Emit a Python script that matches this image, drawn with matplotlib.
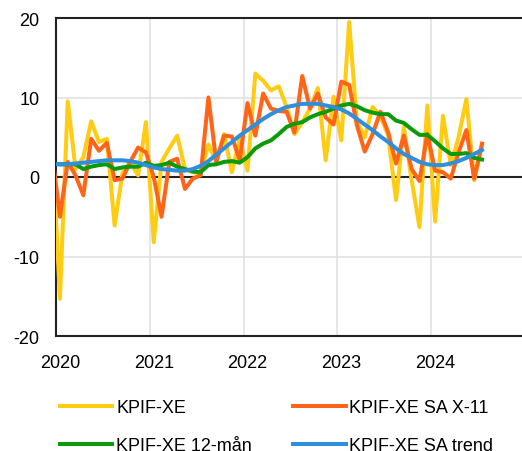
import numpy as np
import matplotlib.pyplot as plt
import matplotlib.transforms as mtransforms

plt.rcParams['font.family'] = ['Liberation Sans', 'DejaVu Sans']
plt.rcParams['axes.unicode_minus'] = False

# månadsdata, dec 2019 - jul 2024 (årstakt, procent)
start_year = 2019
start_month = 12

kpif_xe = [5.0,
           -15.3, 9.5, 1.0, 2.5, 7.0, 4.4, 4.8, -6.1, 0.5, 1.9, 0.2, 6.9,
           -8.2, 1.9, 3.6, 5.2, 1.0, 0.6, 0.4, 4.1, 1.9, 5.4, 0.6, 4.8,
           0.8, 13.0, 12.1, 10.9, 11.4, 8.8, 5.4, 6.9, 8.6, 11.2, 2.1, 10.1,
           4.6, 19.5, 6.9, 5.0, 8.8, 7.7, 5.2, -2.9, 6.3, -0.4, -6.3, 9.0,
           -5.6, 7.7, 1.5, 5.0, 9.8, -0.4, 4.0]
kpif_xe_sa = [3.0,
              -5.0, 1.9, 0.2, -2.3, 4.8, 3.3, 4.3, -0.4, -0.2, 1.9, 3.7, 3.1,
              0.0, -5.0, 1.9, 2.3, -1.5, -0.2, 0.2, 10.0, 1.9, 5.2, 5.1, 2.1,
              9.3, 5.2, 10.5, 8.6, 8.3, 8.2, 5.6, 12.7, 8.6, 10.5, 7.5, 6.6,
              12.0, 11.6, 6.5, 3.2, 5.4, 8.2, 5.6, 1.7, 5.2, 1.0, -0.5, 5.4,
              0.8, 0.6, -0.2, 3.1, 5.9, -0.2, 4.2]
kpif_xe_12m = [1.7,
               1.6, 1.6, 1.6, 1.0, 1.3, 1.5, 1.6, 1.0, 1.2, 1.3, 1.3, 1.8,
               1.4, 1.5, 1.8, 1.3, 1.0, 0.7, 0.6, 1.5, 1.6, 1.9, 2.0, 1.8,
               2.5, 3.6, 4.2, 4.6, 5.4, 6.3, 6.7, 6.9, 7.5, 7.9, 8.2, 8.6,
               9.0, 9.2, 8.9, 8.4, 8.1, 7.9, 7.9, 7.1, 6.8, 6.0, 5.3, 5.3,
               4.5, 3.6, 2.9, 2.9, 3.0, 2.4, 2.2]
kpif_xe_trend = [1.6,
                 1.6, 1.6, 1.7, 1.8, 1.9, 2.0, 2.1, 2.1, 2.1, 2.0, 1.8, 1.5,
                 1.2, 1.0, 0.9, 0.8, 0.8, 1.0, 1.4, 2.0, 2.8, 3.6, 4.4, 5.2,
                 5.9, 6.6, 7.3, 7.9, 8.4, 8.8, 9.0, 9.2, 9.2, 9.2, 9.0, 8.8,
                 8.5, 8.0, 7.3, 6.6, 5.9, 5.1, 4.4, 3.6, 2.9, 2.4, 1.9, 1.6,
                 1.5, 1.5, 1.7, 2.0, 2.4, 2.9, 3.4]

years = [2020, 2021, 2022, 2023, 2024]

# x-position mitt i månaden
n = len(kpif_xe)
x = start_year + (start_month - 1 + np.arange(n) + 0.5) / 12

fig = plt.figure(figsize=(5.22, 4.52), dpi=100)
ax = fig.add_axes([56 / 522, 115 / 452, 469 / 522, 318 / 452])

ax.plot(x, kpif_xe, color='#FFCC14', lw=2.9, label='KPIF-XE', zorder=3)
ax.plot(x, kpif_xe_sa, color='#FF6418', lw=2.9, label='KPIF-XE SA X-11', zorder=4)
ax.plot(x, kpif_xe_12m, color='#0A9A0A', lw=2.9, label='KPIF-XE 12-mån', zorder=5)
ax.plot(x, kpif_xe_trend, color='#2F8FDC', lw=2.9, label='KPIF-XE SA trend', zorder=6)

ax.axhline(0, color='#222222', lw=1.5, zorder=2)

ax.set_xlim(2020, 2025)
ax.set_ylim(-20, 20)
ax.set_xticks(years)
ax.set_xticklabels([str(y) for y in years])
ax.set_yticks([-20, -10, 0, 10, 20])
ax.tick_params(length=0, labelsize=13)
ax.tick_params(axis='y', pad=12)
ax.tick_params(axis='x', pad=13)
ax.grid(True, color='#e2e2e2', lw=1.2, zorder=0)

# årsetiketterna står lite till höger om linjen
offset = mtransforms.ScaledTranslation(4 / 100, 0, fig.dpi_scale_trans)
for lab in ax.get_xticklabels():
    lab.set_transform(lab.get_transform() + offset)

for s in ['left', 'top', 'bottom']:
    ax.spines[s].set_color('#222222')
    ax.spines[s].set_linewidth(1.5)
ax.spines['right'].set_visible(False)

h, l = ax.get_legend_handles_labels()
order = [0, 2, 1, 3]
fig.legend([h[i] for i in order], [l[i] for i in order], ncol=2,
           loc='center', bbox_to_anchor=(0.530, 0.054), frameon=False,
           fontsize=13, handlelength=2.9, handletextpad=0.2,
           columnspacing=2.3, labelspacing=1.15)

fig.savefig('out.png', dpi=100)
